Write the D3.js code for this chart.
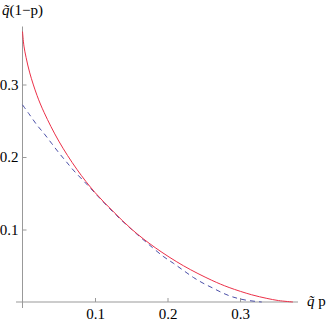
<!DOCTYPE html>
<html><head><meta charset="utf-8">
<script src="https://cdn.jsdelivr.net/npm/d3@7"></script>
<style>
html,body{margin:0;padding:0;background:#fff;}
svg{display:block;}
svg text{font-family:"Liberation Serif","DejaVu Serif",serif;}
</style></head>
<body>
<script>
// Red solid curve
const redX = [0, 0.002, 0.005, 0.01, 0.02, 0.03, 0.05, 0.075, 0.1, 0.125, 0.151, 0.183, 0.222, 0.261, 0.285, 0.316, 0.337, 0.353, 0.373];
const redY = [0.373, 0.353, 0.337, 0.316, 0.285, 0.261, 0.222, 0.183, 0.151, 0.125, 0.1, 0.075, 0.05, 0.03, 0.02, 0.01, 0.005, 0.002, 0];
// Blue dashed curve
const blueX = [0, 0.01, 0.02, 0.03, 0.04, 0.05, 0.06, 0.07, 0.09, 0.11, 0.13, 0.15, 0.17, 0.194, 0.208, 0.222, 0.236, 0.249, 0.263, 0.276, 0.289, 0.307, 0.33];
const blueY = [0.272, 0.258, 0.244, 0.232, 0.219, 0.206, 0.194, 0.182, 0.161, 0.1395, 0.119, 0.1005, 0.083, 0.063, 0.0535, 0.0435, 0.0337, 0.026, 0.019, 0.0125, 0.0073, 0.0028, 0];
const xTicks = [0.1, 0.2, 0.3];
const yTicks = [0.1, 0.2, 0.3];
const xTickLabels = ["0.1", "0.2", "0.3"];
const yTickLabels = ["0.1", "0.2", "0.3"];

const W = 327, H = 323;
const svg = d3.select("body").append("svg").attr("width", W).attr("height", H);

const x = d3.scaleLinear().domain([0, 0.38]).range([22.5, 22.5 + 725 * 0.38]);
const y = d3.scaleLinear().domain([0, 0.38]).range([302, 302 - 725 * 0.38]);

const axisColor = "#999";
const serif = '"Liberation Serif","DejaVu Serif",serif';
const fs = 15;

// axes lines
svg.append("line").attr("x1", 16).attr("x2", x(0.38)).attr("y1", y(0)).attr("y2", y(0))
  .attr("stroke", axisColor).attr("stroke-width", 1);
svg.append("line").attr("x1", x(0)).attr("x2", x(0)).attr("y1", y(0.38)).attr("y2", 308)
  .attr("stroke", axisColor).attr("stroke-width", 1);

const gx = svg.append("g").attr("transform", `translate(0,${y(0)})`)
  .call(d3.axisBottom(x).tickValues(xTicks).tickFormat((d, i) => xTickLabels[i]).tickSizeInner(-4).tickSizeOuter(0).tickPadding(6));
const gy = svg.append("g").attr("transform", `translate(${x(0)},0)`)
  .call(d3.axisLeft(y).tickValues(yTicks).tickFormat((d, i) => yTickLabels[i]).tickSizeInner(-4).tickSizeOuter(0).tickPadding(4));
[gx, gy].forEach(g => {
  g.attr("font-family", serif).attr("font-size", fs);
  g.select(".domain").remove();
  g.selectAll(".tick line").attr("stroke", axisColor);
  g.selectAll(".tick text").attr("fill", "#000").attr("font-family", serif).attr("font-size", fs);
});

const line = d3.line().x(d => x(d[0])).y(d => y(d[1])).curve(d3.curveCatmullRom.alpha(0.5));

svg.append("path").datum(blueX.map((v, i) => [v, blueY[i]]))
  .attr("d", line).attr("fill", "none").attr("stroke", "#4a4fa8").attr("stroke-width", 1)
  .attr("stroke-dasharray", "5,4");
svg.append("path").datum(redX.map((v, i) => [v, redY[i]]))
  .attr("d", line).attr("fill", "none").attr("stroke", "#ec3048").attr("stroke-width", 1);

// axis labels
const yl = svg.append("text").attr("x", 2).attr("y", 15).attr("font-family", serif).attr("font-size", fs);
yl.append("tspan").attr("font-style", "italic").text("q\u0303");
yl.append("tspan").text("(1\u2212p)");

const xl = svg.append("text").attr("x", 307).attr("y", 306).attr("font-family", serif).attr("font-size", fs);
xl.append("tspan").attr("font-style", "italic").text("q\u0303");
xl.append("tspan").text(" p");
</script>
</body></html>
